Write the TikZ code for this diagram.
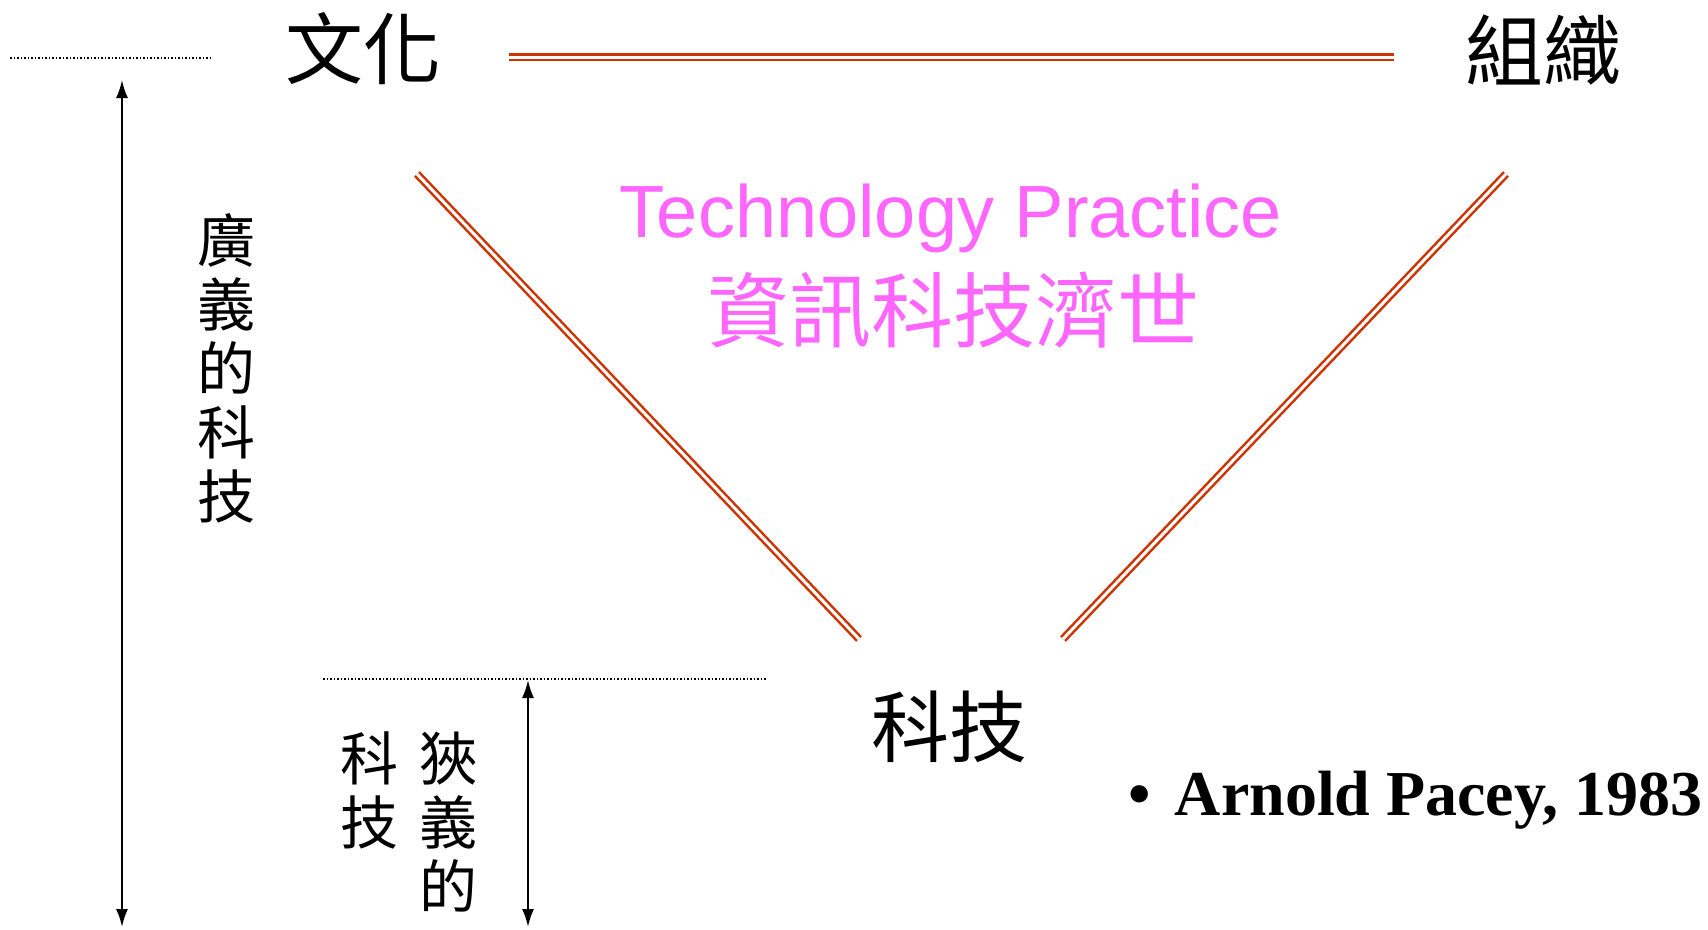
\documentclass[tikz,border=0pt]{standalone}
\usepackage{fontspec}
\setmainfont{Liberation Serif}
\newfontfamily\cjk{Noto Sans CJK TC}
\newfontfamily\arialfont{Liberation Sans}
\usetikzlibrary{arrows.meta}
\definecolor{triRed}{RGB}{204,51,0}
\definecolor{tpPink}{RGB}{255,102,255}
\newcommand{\CJKbig}{\cjk\fontsize{78}{84}\selectfont}
\newcommand{\CJKsmall}{\cjk\fontsize{58}{64}\selectfont}

\begin{document}
\begin{tikzpicture}[x=1pt,y=-1pt,
  every node/.style={inner sep=0pt},
  vtext/.style={align=center,font=\CJKsmall},
  tri/.style={draw=triRed,line width=2.5pt,double=white,double distance=3pt},
  rangearrow/.style={{Latex[length=18pt,width=12pt]}-{Latex[length=18pt,width=12pt]},line width=2pt},
  levelline/.style={line width=1.5pt,dash pattern=on 1.5pt off 2pt}]
\useasboundingbox (0,0) rectangle (1708,929);

\node (culture) at (363,49)  {\CJKbig 文化};
\node (org) at (1543,50)  {\CJKbig 組織};
\node (tech) at (949,727)  {\CJKbig 科技};

\node[anchor=base,text=tpPink] (tp-en) at (951,237) {\arialfont\fontsize{74}{80}\selectfont Technology Practice};
\node[text=tpPink] (tp-zh) at (953,310) {\cjk\fontsize{82}{88}\selectfont 資訊科技濟世};

\node[vtext] (broad) at (226,368) {廣\\義\\的\\科\\技};
\node[vtext,anchor=north] (narrow) at (448,732) {狹\\義\\的};
\node[vtext,anchor=north] (narrow-2) at (369,732) {科\\技};

\node[anchor=base east] (pacey) at (1703,815) {\fontsize{64}{70}\selectfont\bfseries \textbullet\hspace{24pt}Arnold Pacey, 1983};

% triangle
\coordinate (tri-1) at (509,57);
\coordinate (tri-2) at (1394,57);
\coordinate (tri-3) at (417,174);
\coordinate (tri-4) at (859,639);
\coordinate (tri-5) at (1506,174);
\coordinate (tri-6) at (1063,639);
\draw[tri] (tri-1) -- (tri-2);
\draw[tri] (tri-3) -- (tri-4);
\draw[tri] (tri-5) -- (tri-6);

% levels
\coordinate (wide-l) at (10,58);
\coordinate (wide-r) at (212,58);
\coordinate (wide-top) at (122,80);
\coordinate (wide-bot) at (122,927);
\coordinate (narrow-l) at (323,679);
\coordinate (narrow-r) at (766,679);
\coordinate (narrow-top) at (528,680);
\coordinate (narrow-bot) at (528,927);
\draw[levelline] (wide-l) -- (wide-r);
\draw[levelline] (narrow-l) -- (narrow-r);
\draw[rangearrow] (wide-top) -- (wide-bot);
\draw[rangearrow] (narrow-top) -- (narrow-bot);
\end{tikzpicture}
\end{document}
